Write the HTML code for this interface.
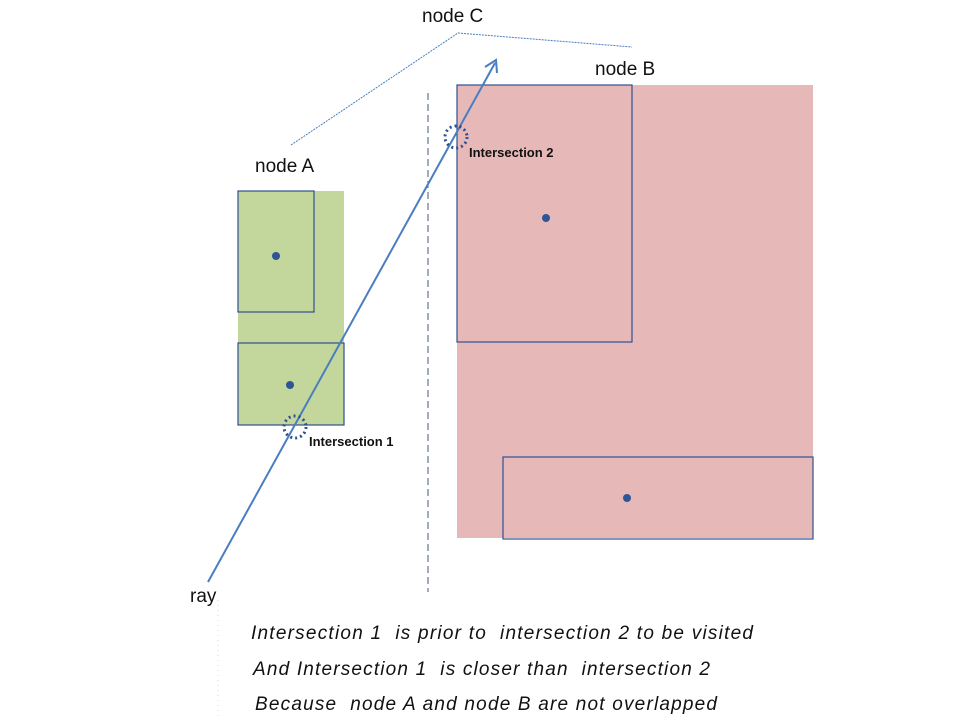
<!DOCTYPE html>
<html><head><style>body{margin:0;background:#fff}svg{display:block}</style></head><body>
<svg width="960" height="720" xmlns="http://www.w3.org/2000/svg" font-family="Liberation Sans, sans-serif">
<rect width="960" height="720" fill="#fff"/>
<rect x="238" y="191" width="106" height="234" fill="#c3d69b"/>
<rect x="457" y="85" width="356" height="453" fill="#e6b9b8"/>
<rect x="238" y="191" width="76" height="121" fill="none" stroke="#2f4f8f" stroke-width="1.2"/>
<rect x="238" y="343" width="106" height="82" fill="none" stroke="#2f4f8f" stroke-width="1.2"/>
<rect x="457" y="85" width="175" height="257" fill="none" stroke="#2f4f8f" stroke-width="1.2"/>
<rect x="503" y="457" width="310" height="82" fill="none" stroke="#2f4f8f" stroke-width="1.2"/>
<circle cx="276" cy="256" r="4" fill="#2f5597"/>
<circle cx="290" cy="385" r="4" fill="#2f5597"/>
<circle cx="546" cy="218" r="4" fill="#2f5597"/>
<circle cx="627" cy="498" r="4" fill="#2f5597"/>
<line x1="428" y1="93" x2="428" y2="592" stroke="#4a5a7a" stroke-dasharray="7,4"/>
<line x1="218" y1="600" x2="218" y2="720" stroke="#ddd" stroke-dasharray="1,4"/>
<polyline points="291,145 458,33 632,47" fill="none" stroke="#4a7ebf" stroke-dasharray="2,1"/>
<line x1="208" y1="582" x2="495" y2="63" stroke="#4a7ebf" stroke-width="2"/>
<polyline points="485,67 496,60 497,73" fill="none" stroke="#4a7ebf" stroke-width="2"/>
<circle cx="295" cy="427" r="11" fill="none" stroke="#2f4f8f" stroke-width="3" stroke-dasharray="2,3"/>
<circle cx="456" cy="137" r="11" fill="none" stroke="#2f4f8f" stroke-width="3" stroke-dasharray="2,3"/>
<text x="309" y="446" font-size="13" font-weight="bold" fill="#111">Intersection 1</text>
<text x="469" y="157" font-size="13" font-weight="bold" fill="#111">Intersection 2</text>
<text x="422" y="22" font-size="19" fill="#111">node C</text>
<text x="595" y="75" font-size="19" fill="#111">node B</text>
<text x="255" y="172" font-size="19" fill="#111">node A</text>
<text x="190" y="602" font-size="19" fill="#111">ray</text>
<g font-size="19" font-style="italic" fill="#111">
<text x="251" y="639" textLength="502" lengthAdjust="spacing" xml:space="preserve">Intersection 1  is prior to  intersection 2 to be visited</text>
<text x="253" y="675" textLength="457" lengthAdjust="spacing" xml:space="preserve">And Intersection 1  is closer than  intersection 2</text>
<text x="255" y="710" textLength="462" lengthAdjust="spacing" xml:space="preserve">Because  node A and node B are not overlapped</text>
</g>
</svg>
</body></html>
